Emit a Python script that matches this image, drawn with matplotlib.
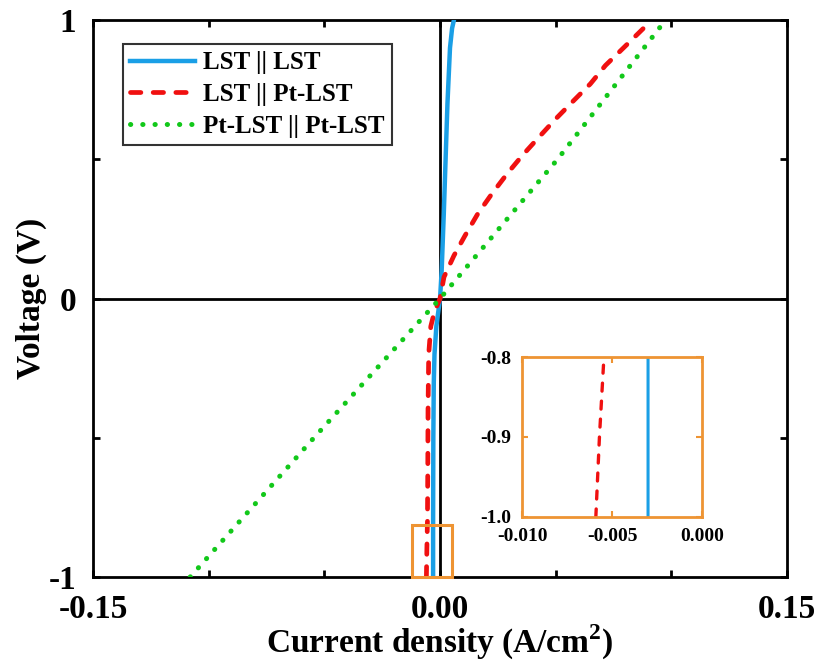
import matplotlib
matplotlib.use("Agg")
import matplotlib.pyplot as plt
from matplotlib.patches import Rectangle

plt.rcParams['font.family'] = ['Liberation Serif', 'DejaVu Serif']
plt.rcParams['font.weight'] = 'bold'

# LST || LST (blue, solid)
v_lst = [-1.0, -0.8, -0.5, -0.3, -0.2, -0.1, 0.0, 0.1, 0.3, 0.5, 0.7, 0.9, 0.97, 1.0]
j_lst = [-0.0030, -0.0030, -0.0029, -0.0027, -0.0024, -0.0016, 0.0, 0.0007,
         0.0016, 0.0024, 0.0032, 0.0043, 0.0052, 0.0060]

# LST || Pt-LST (red, dashed)
v_mix = [-1.0, -0.9, -0.8, -0.6, -0.4, -0.2, -0.1, -0.05, 0.0, 0.077, 0.154, 0.226,
         0.304, 0.376, 0.448, 0.513, 0.579, 0.645, 0.711, 0.771, 0.837, 0.90, 0.97, 1.0]
j_mix = [-0.0059, -0.0057, -0.00545, -0.0053, -0.0052, -0.0049, -0.0040, -0.0025, 0.0,
         0.0017, 0.0060, 0.0108, 0.0163, 0.0224, 0.0290, 0.0355, 0.0427, 0.0500,
         0.0578, 0.0650, 0.0715, 0.0793, 0.0879, 0.0915]

# Pt-LST || Pt-LST (green, dotted)
v_pt = [-1.0, -0.5, 0.0, 0.5, 1.0]
j_pt = [-0.108, -0.0545, 0.0, 0.0508, 0.0975]

labels = ['LST || LST', 'LST || Pt-LST', 'Pt-LST || Pt-LST']
xticks = [-0.15, -0.10, -0.05, 0.0, 0.05, 0.10, 0.15]
xticklabels = ['-0.15', '', '', '0.00', '', '', '0.15']
yticks = [-1, -0.5, 0, 0.5, 1]
yticklabels = ['-1', '', '0', '', '1']

blue = '#1A9FE6'
red = '#F01010'
green = '#12C81A'
orange = '#EE9433'

fig = plt.figure(figsize=(8.19, 6.61), dpi=100)
ax = fig.add_axes([0.1136, 0.1271, 0.8474, 0.8426])

ax.axhline(0, color='black', lw=2.0, zorder=1)
ax.axvline(0, color='black', lw=2.0, zorder=1)

ax.plot(j_lst, v_lst, color=blue, lw=3.2, label=labels[0], zorder=3)
ax.plot(j_mix, v_mix, color=red, lw=3.4, linestyle=(0, (2.2, 2.6)),
        dash_capstyle='round', label=labels[1], zorder=3)
ax.plot(j_pt, v_pt, color=green, lw=3.6, linestyle=(0, (0.05, 2.4)),
        dash_capstyle='round', label=labels[2], zorder=3)

# orange frame marking the zoomed region
ax.add_patch(Rectangle((-0.012, -1.0), 0.017, 0.185, fill=False,
                       edgecolor=orange, lw=2.2, zorder=4, clip_on=False))

ax.set_xlim(-0.15, 0.15)
ax.set_ylim(-1, 1)
ax.set_xticks(xticks)
ax.set_xticklabels(xticklabels)
ax.set_yticks(yticks)
ax.set_yticklabels(yticklabels)
ax.tick_params(direction='in', length=5, width=2, labelsize=24,
               top=True, right=True)
ax.tick_params(axis='x', pad=12)
ax.tick_params(axis='y', pad=12)
for s in ax.spines.values():
    s.set_linewidth(2.0)
ax.set_xlabel('Current density (A/cm$^{\\mathregular{2}}$)', fontsize=24,
              fontweight='bold', labelpad=-1)
ax.set_ylabel('Voltage (V)', fontsize=24, fontweight='bold', labelpad=1)

leg = ax.legend(loc='upper left', bbox_to_anchor=(0.043, 0.957), fontsize=18,
                frameon=True, fancybox=False, handlelength=2.6,
                handletextpad=0.3, labelspacing=0.35, borderpad=0.3,
                borderaxespad=0)
leg.get_frame().set_edgecolor('black')
leg.get_frame().set_linewidth(1.5)

# inset
axin = fig.add_axes([0.6374, 0.2179, 0.2198, 0.242])
axin.plot(j_lst, v_lst, color=blue, lw=2.2)
axin.plot(j_mix, v_mix, color=red, lw=2.4, linestyle=(0, (2.4, 3.0)),
          dash_capstyle='round')
axin.set_xlim(-0.010, 0.0)
axin.set_ylim(-1.0, -0.8)
axin.set_xticks([-0.010, -0.005, 0.0])
axin.set_xticklabels(['-0.010', '-0.005', '0.000'])
axin.set_yticks([-1.0, -0.9, -0.8])
axin.set_yticklabels(['-1.0', '-0.9', '-0.8'])
axin.tick_params(direction='in', length=4, width=1.5, color=orange,
                 labelsize=14, top=True, right=True, pad=8)
for s in axin.spines.values():
    s.set_edgecolor(orange)
    s.set_linewidth(2.0)

fig.savefig('out.png', dpi=100)
